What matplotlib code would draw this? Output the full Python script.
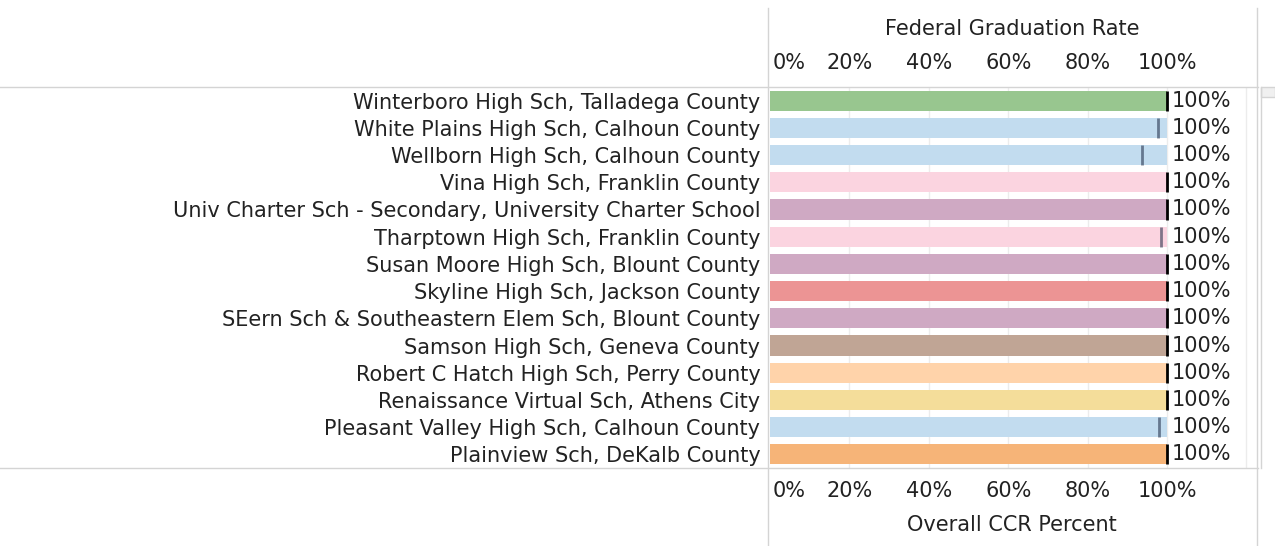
import numpy as np
import matplotlib.pyplot as plt
import matplotlib.transforms as mtransforms
from matplotlib.lines import Line2D
from matplotlib.patches import Rectangle

schools = [
    "Winterboro High Sch, Talladega County",
    "White Plains High Sch, Calhoun County",
    "Wellborn High Sch, Calhoun County",
    "Vina High Sch, Franklin County",
    "Univ Charter Sch - Secondary, University Charter School",
    "Tharptown High Sch, Franklin County",
    "Susan Moore High Sch, Blount County",
    "Skyline High Sch, Jackson County",
    "SEern Sch & Southeastern Elem Sch, Blount County",
    "Samson High Sch, Geneva County",
    "Robert C Hatch High Sch, Perry County",
    "Renaissance Virtual Sch, Athens City",
    "Pleasant Valley High Sch, Calhoun County",
    "Plainview Sch, DeKalb County",
]
ccr_pct = [1.0] * 14
grad_rate = [1.0, 0.977, 0.937, 1.0, 1.0, 0.984, 1.0, 1.0, 1.0, 1.0, 1.0, 1.0, 0.98, 1.0]
bar_colors = [
    "#98c68f", "#c2dcef", "#c2dcef", "#fbd4e0", "#cfa9c3", "#fbd4e0", "#cfa9c3",
    "#ec9494", "#cfa9c3", "#c0a595", "#ffd3aa", "#f4dd9a", "#c2dcef", "#f6b478",
]
ticks = [0, 0.2, 0.4, 0.6, 0.8, 1.0]
tick_labels = ["0%", "20%", "40%", "60%", "80%", "100%"]

W, H = 1275, 546
fig = plt.figure(figsize=(W / 100, H / 100), dpi=100)
x0, x1, ytop, ybot = 770, 1258, 87, 468
ax = fig.add_axes([x0 / W, 1 - ybot / H, (x1 - x0) / W, (ybot - ytop) / H])

fs = 15
tc = "#222222"
y = np.arange(len(schools))
ax.barh(y, ccr_pct, height=0.74, color=bar_colors, zorder=2)
for yi, g in zip(y, grad_rate):
    c = "black" if g >= 1.0 else (0.1, 0.15, 0.25, 0.55)
    ax.plot([g, g], [yi - 0.37, yi + 0.37], color=c, lw=2, solid_capstyle="butt", zorder=3)
    ax.text(max(ccr_pct[yi], g) + 0.012, yi, "100%", va="center", ha="left",
            fontsize=fs, color=tc)

ax.set_ylim(len(schools) - 0.5, -0.5)
ax.set_xlim(0, 1.229)
ax.set_yticks(y)
ax.set_yticklabels(schools, fontsize=fs, color=tc)
ax.tick_params(axis="y", length=0, pad=7)
ax.set_xticks([])
for g in [0.2, 0.4, 0.6, 0.8, 1.0, 1.2]:
    ax.axvline(g, color="#ececec", lw=1, zorder=0)
for s in ax.spines.values():
    s.set_visible(False)

# tick labels above and below the pane
trans = mtransforms.blended_transform_factory(ax.transData, fig.transFigure)
for ypix in (63, 491):
    for t, lab in zip(ticks, tick_labels):
        ha = "left" if t == 0 else "center"
        xt = 0.006 if t == 0 else t
        ax.text(xt, 1 - ypix / H, lab, transform=trans, ha=ha, va="center",
                fontsize=fs, color=tc, clip_on=False)

fig.text(1012 / W, 1 - 29 / H, "Federal Graduation Rate", ha="center", va="center",
         fontsize=fs, color=tc)
fig.text(1012 / W, 1 - 525 / H, "Overall CCR Percent", ha="center", va="center",
         fontsize=fs, color=tc)

lc = "#d4d4d4"
fig.add_artist(Line2D([0, x1 / W], [1 - ytop / H] * 2, color=lc, lw=1))
fig.add_artist(Line2D([0, x1 / W], [1 - ybot / H] * 2, color=lc, lw=1))
fig.add_artist(Line2D([768 / W] * 2, [0, 1 - 8 / H], color=lc, lw=1))
fig.add_artist(Line2D([1257 / W] * 2, [0, 1 - 8 / H], color=lc, lw=1))
fig.add_artist(Line2D([1261 / W] * 2, [1 - ybot / H, 1 - ytop / H], color=lc, lw=1))
fig.add_artist(Rectangle((1261 / W, 1 - 97 / H), 14 / W, 10 / H, facecolor="#f0f0f0",
                         edgecolor=lc, lw=1, transform=fig.transFigure))

fig.savefig("out.png", dpi=100)
